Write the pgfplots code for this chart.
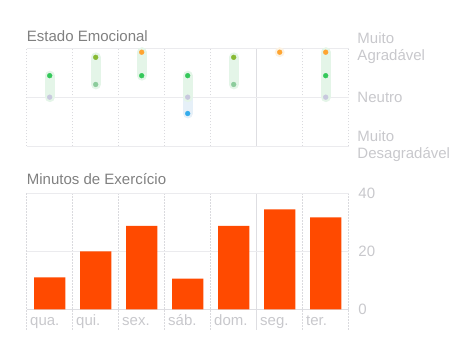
\documentclass[border=0pt]{standalone}
\usepackage{fontspec}
\setmainfont{Liberation Sans}
\usepackage{pgfplots}
\pgfplotsset{compat=1.18}
\definecolor{titlegray}{RGB}{128,128,128}
\definecolor{tickgray}{RGB}{200,200,204}
\definecolor{gridgray}{RGB}{235,235,238}
\definecolor{dotgray}{RGB}{218,218,222}
\definecolor{solidgray}{RGB}{222,222,226}
\definecolor{barred}{RGB}{255,74,0}
\definecolor{morange}{RGB}{255,164,48}
\definecolor{mgreen}{RGB}{52,200,90}
\definecolor{mygreen}{RGB}{136,186,52}
\definecolor{mlgreen}{RGB}{140,204,156}
\definecolor{mgray}{RGB}{200,200,222}
\definecolor{mblue}{RGB}{52,172,236}
\definecolor{capgreen}{RGB}{228,245,232}
\definecolor{capblue}{RGB}{230,240,248}
\definecolor{caporange}{RGB}{252,242,226}
\newcommand{\tfont}{\fontsize{15bp}{17bp}\selectfont}
\begin{document}
\begin{tikzpicture}
\useasboundingbox (0,-356bp) rectangle (471bp,0);
\node[anchor=base west, inner sep=0pt, text=titlegray, font=\tfont] at (26.7bp,-41.7bp) {Estado Emocional};
\node[anchor=base west, inner sep=0pt, text=titlegray, font=\tfont] at (26.7bp,-184bp) {Minutos de Exercício};
% Top panel
\begin{axis}[
  at={(26.7bp,-48.3bp)}, anchor=north west,
  scale only axis, width=322bp, height=97.7bp,
  xmin=0, xmax=7, ymin=-1, ymax=1,
  axis line style={draw=none}, major tick length=0pt,
  xtick=\empty, ytick={-1,0,1},
  yticklabels={{Muito\\Desagradável},{Neutro},{Muito\\Agradável}},
  yticklabel pos=right,
  yticklabel style={anchor=west, align=left, inner sep=0pt, xshift=8.6bp, font=\tfont, text=tickgray},
  clip=false,
]
\foreach \x in {0,1,2,3,4,6,7} {
  \edef\tmp{\noexpand\draw[dotgray, line width=0.8bp, dash pattern=on 1.5bp off 1.5bp] (axis cs:\x,-1) -- (axis cs:\x,1);}\tmp
}
\draw[solidgray, line width=0.9bp] (axis cs:5,-1) -- (axis cs:5,1);
\draw[gridgray, line width=1bp] (axis cs:0,1) -- (axis cs:7,1);
\draw[gridgray, line width=1bp] (axis cs:0,0) -- (axis cs:7,0);
\draw[gridgray, line width=1bp] (axis cs:0,-1) -- (axis cs:7,-1);
% capsules
\addplot[line width=10bp, line cap=round, color=capgreen, forget plot] coordinates {(0.5,0) (0.5,0.44)};
\addplot[line width=10bp, line cap=round, color=capgreen, forget plot] coordinates {(1.5,0.26) (1.5,0.815)};
\addplot[line width=10bp, line cap=round, color=capgreen, forget plot] coordinates {(2.5,0.44) (2.5,0.92)};
\addplot[line width=10bp, line cap=round, color=capblue, forget plot] coordinates {(3.5,-0.335) (3.5,0)};
\addplot[line width=10bp, line cap=round, color=capgreen, forget plot] coordinates {(3.5,0) (3.5,0.44)};
\addplot[line width=10bp, line cap=round, color=capgreen, forget plot] coordinates {(4.5,0.26) (4.5,0.815)};
\addplot[line width=10bp, line cap=round, color=caporange, forget plot] coordinates {(5.5,0.92) (5.5,0.92)};
\addplot[line width=10bp, line cap=round, color=capgreen, forget plot] coordinates {(6.5,0) (6.5,0.92)};
% dots
\addplot[only marks, mark=*, mark size=2.4bp, color=mgray] coordinates {(0.5,0) (3.5,0) (6.5,0)};
\addplot[only marks, mark=*, mark size=2.4bp, color=mgreen] coordinates {(0.5,0.44) (2.5,0.44) (3.5,0.44) (6.5,0.44)};
\addplot[only marks, mark=*, mark size=2.4bp, color=mygreen] coordinates {(1.5,0.815) (4.5,0.815)};
\addplot[only marks, mark=*, mark size=2.4bp, color=mlgreen] coordinates {(1.5,0.26) (4.5,0.26)};
\addplot[only marks, mark=*, mark size=2.4bp, color=morange] coordinates {(2.5,0.92) (5.5,0.92) (6.5,0.92)};
\addplot[only marks, mark=*, mark size=2.4bp, color=mblue] coordinates {(3.5,-0.335)};
\end{axis}
% Bottom panel
\begin{axis}[
  at={(26.7bp,-193.3bp)}, anchor=north west,
  scale only axis, width=322bp, height=116bp,
  xmin=0, xmax=7, ymin=0, ymax=40,
  axis line style={draw=none}, major tick length=0pt,
  xtick={0,1,2,3,4,5,6},
  xticklabels={qua.,qui.,sex.,sáb.,dom.,seg.,ter.},
  xticklabel style={anchor=base west, inner sep=0pt, xshift=3.3bp, yshift=-16.4bp, font=\tfont, text=tickgray},
  ytick={0,20,40},
  yticklabel pos=right,
  yticklabel style={anchor=west, inner sep=0pt, xshift=9.6bp, font=\tfont, text=tickgray},
  /pgf/number format/assume math mode=true,
  clip=false,
]
\foreach \x in {0,1,2,3,4,6,7} {
  \edef\tmp{\noexpand\draw[dotgray, line width=0.8bp, dash pattern=on 1.5bp off 1.5bp] (axis cs:\x,-7.1) -- (axis cs:\x,40);}\tmp
}
\draw[solidgray, line width=0.9bp] (axis cs:5,-7.1) -- (axis cs:5,40);
\draw[gridgray, line width=1bp] (axis cs:0,40) -- (axis cs:7,40);
\draw[gridgray, line width=1bp] (axis cs:0,20) -- (axis cs:7,20);
\draw[solidgray, line width=1bp] (axis cs:0,0) -- (axis cs:7,0);
\addplot[ybar, bar width=31.3bp, fill=barred, draw=none] coordinates {
  (0.5,11.0) (1.5,20.0) (2.5,28.8) (3.5,10.6) (4.5,28.8) (5.5,34.5) (6.5,31.7)};
\end{axis}
\end{tikzpicture}
\end{document}
